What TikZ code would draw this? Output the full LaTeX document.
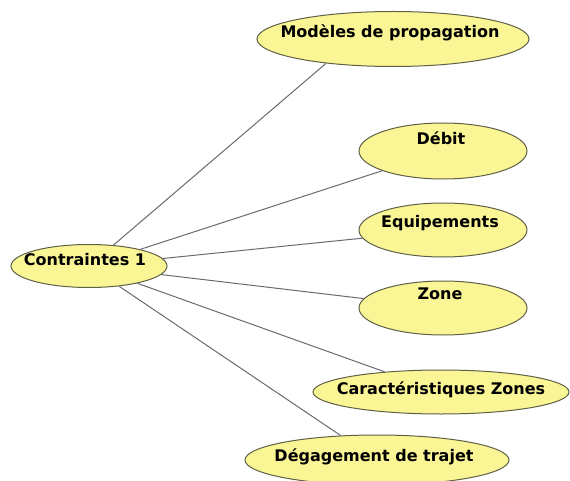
\documentclass[tikz,border=0pt]{standalone}
\usepackage{fontspec}
\setmainfont{DejaVu Sans}
\usepackage{tikz}
\usetikzlibrary{shapes.geometric}

\definecolor{bulle}{RGB}{250,246,150}
\definecolor{bord}{RGB}{95,95,70}
\definecolor{trait}{RGB}{105,105,115}

\begin{document}
\begin{tikzpicture}[x=1pt,y=-1pt]
\useasboundingbox (0,0) rectangle (570,481);

\begin{scope}[every node/.style={ellipse,draw=bord,fill=bulle,line width=1pt,inner sep=0pt}]
\node[minimum width=156,minimum height=43] (contraintes) at (89,266) {};
\node[minimum width=272,minimum height=55] (modeles) at (393,39) {};
\node[minimum width=168,minimum height=56] (debit) at (443,151) {};
\node[minimum width=168,minimum height=54] (equipements) at (443,230) {};
\node[minimum width=168,minimum height=54] (zone) at (443,308) {};
\node[minimum width=256,minimum height=44] (caracteristiques) at (441,392) {};
\node[minimum width=264,minimum height=50] (degagement) at (377,460) {};
\end{scope}

\begin{scope}[every node/.style={font=\bfseries\fontsize{16}{18}\selectfont}]
\node (contraintes txt) at (85,260) {Contraintes 1};
\node (modeles txt) at (390,33) {Modèles de propagation};
\node (debit txt) at (441,138) {Débit};
\node (equipements txt) at (440,223) {Equipements};
\node (zone txt) at (440,294) {Zone};
\node (caracteristiques txt) at (441,390) {Caractéristiques Zones};
\node (degagement txt) at (374,457) {Dégagement de trajet};
\end{scope}

\begin{scope}[trait,line width=1pt]
\path (contraintes) edge (modeles.200);
\path (contraintes) edge (debit);
\path (contraintes) edge (equipements);
\path (contraintes) edge (zone);
\path (contraintes) edge (caracteristiques);
\path (contraintes) edge (degagement);
\end{scope}

\end{tikzpicture}
\end{document}
